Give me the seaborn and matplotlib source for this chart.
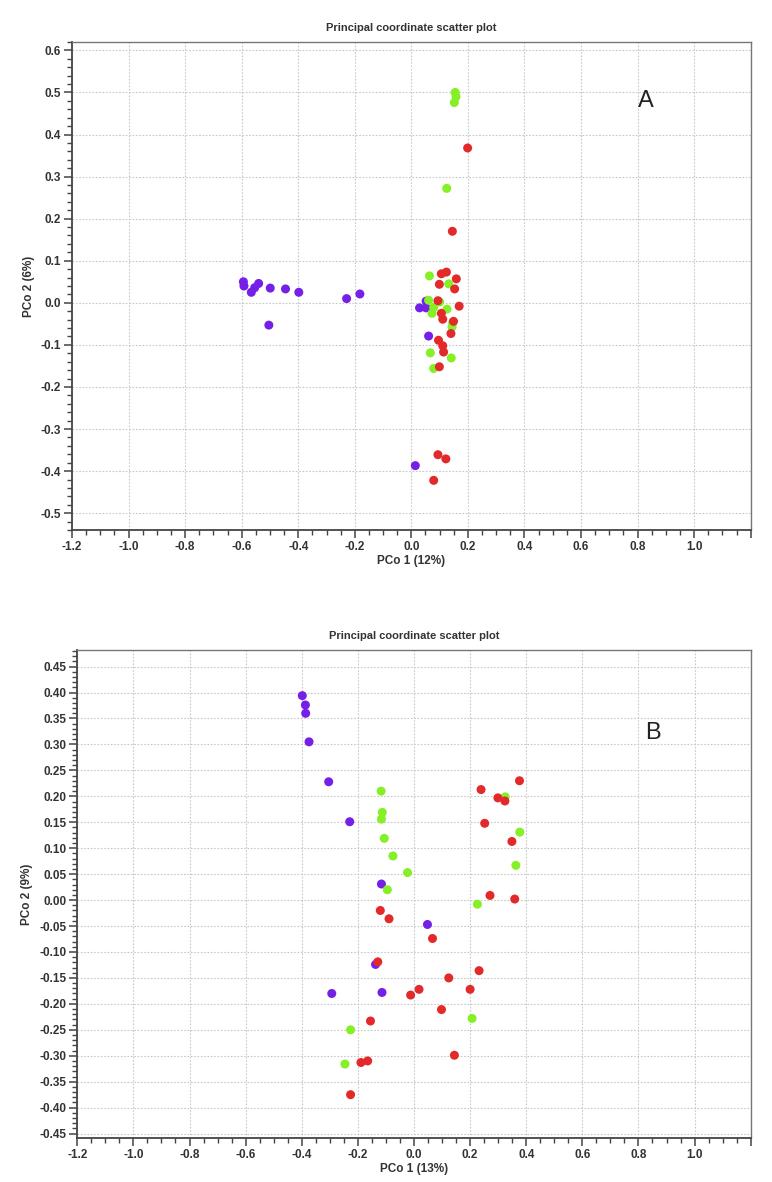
import matplotlib
matplotlib.use('Agg')
import matplotlib.pyplot as plt
import pandas as pd
import seaborn as sns
import numpy as np
from matplotlib.ticker import MultipleLocator, FuncFormatter

# Panel A points (PCo 1, PCo 2) per group
a_purple_x = [-0.594, -0.592, -0.566, -0.554, -0.540, -0.499, -0.504, -0.445, -0.398, -0.229, -0.182,
              0.029, 0.052, 0.052, 0.061, 0.014]
a_purple_y = [0.050, 0.040, 0.025, 0.036, 0.046, 0.035, -0.053, 0.033, 0.025, 0.010, 0.021,
              -0.012, -0.012, 0.004, -0.079, -0.387]
a_green_x = [0.155, 0.158, 0.152, 0.125, 0.064, 0.132, 0.061, 0.079, 0.073, 0.126, 0.144, 0.146,
             0.067, 0.141, 0.079, 0.100]
a_green_y = [0.500, 0.490, 0.476, 0.272, 0.064, 0.045, 0.006, -0.011, -0.025, -0.015, -0.057, -0.047,
             -0.119, -0.131, -0.156, 0.002]
a_red_x = [0.199, 0.145, 0.106, 0.124, 0.159, 0.099, 0.153, 0.094, 0.169, 0.106, 0.111, 0.149,
           0.140, 0.096, 0.111, 0.114, 0.099, 0.094, 0.122, 0.079]
a_red_y = [0.368, 0.170, 0.069, 0.073, 0.057, 0.044, 0.033, 0.005, -0.008, -0.025, -0.039, -0.044,
           -0.073, -0.089, -0.102, -0.117, -0.152, -0.361, -0.371, -0.422]

# Panel B points
b_purple_x = [-0.398, -0.387, -0.386, -0.374, -0.304, -0.229, -0.116, 0.048, -0.137, -0.293, -0.114]
b_purple_y = [0.394, 0.376, 0.360, 0.305, 0.228, 0.151, 0.031, -0.047, -0.124, -0.180, -0.178]
b_green_x = [-0.117, -0.113, -0.116, -0.106, -0.075, -0.023, -0.095, 0.325, 0.377, 0.363, 0.226,
             0.207, -0.226, -0.246]
b_green_y = [0.210, 0.169, 0.156, 0.119, 0.085, 0.053, 0.020, 0.199, 0.131, 0.067, -0.008,
             -0.228, -0.250, -0.316]
b_red_x = [0.239, 0.376, 0.299, 0.324, 0.252, 0.349, 0.271, 0.359, -0.120, -0.089, 0.066, -0.129,
           0.232, 0.124, 0.200, 0.018, -0.012, 0.098, -0.155, 0.144, -0.165, -0.189, -0.226]
b_red_y = [0.213, 0.230, 0.197, 0.191, 0.148, 0.113, 0.009, 0.002, -0.020, -0.036, -0.074, -0.119,
           -0.136, -0.150, -0.172, -0.172, -0.183, -0.211, -0.233, -0.299, -0.310, -0.313, -0.375]

groups = ['purple', 'green', 'red']
colors = {'purple': '#7420e6', 'green': '#84f025', 'red': '#e32a2a'}


def make_df(px, py, gx, gy, rx, ry):
    parts = []
    for g, xs, ys in zip(groups, [px, gx, rx], [py, gy, ry]):
        parts.append(pd.DataFrame({'x': xs, 'y': ys, 'group': g}))
    return pd.concat(parts, ignore_index=True)


df_a = make_df(a_purple_x, a_purple_y, a_green_x, a_green_y, a_red_x, a_red_y)
df_b = make_df(b_purple_x, b_purple_y, b_green_x, b_green_y, b_red_x, b_red_y)

sns.set_style('white')
plt.rcParams['font.family'] = ['Liberation Sans', 'DejaVu Sans']
plt.rcParams['axes.unicode_minus'] = False

fig = plt.figure(figsize=(7.72, 11.82), dpi=100)
ax_a = fig.add_axes([0.0933, 0.5516, 0.8791, 0.4129])
ax_b = fig.add_axes([0.1001, 0.0370, 0.8723, 0.4131])


def style_axis(ax, ylim, ymajor, yminor, yfmt, xlabel, ylabel, letter, letter_pos):
    ax.set_xlim(-1.2, 1.2)
    ax.set_ylim(*ylim)
    ax.xaxis.set_major_locator(MultipleLocator(0.2))
    ax.xaxis.set_minor_locator(MultipleLocator(0.05))
    ax.yaxis.set_major_locator(MultipleLocator(ymajor))
    ax.yaxis.set_minor_locator(MultipleLocator(yminor))
    ax.xaxis.set_major_formatter(FuncFormatter(lambda v, p: '' if v > 1.1 else f'{v:.1f}'))
    ax.yaxis.set_major_formatter(FuncFormatter(lambda v, p: yfmt.format(0.0 if abs(v) < 1e-9 else v)))
    ax.grid(True, which='major', color='#c8c8c8', linestyle=(0, (1.5, 1.5)), linewidth=0.8)
    ax.set_axisbelow(True)
    ax.tick_params(which='major', direction='out', length=6, width=1.1, color='#444444',
                   labelsize=8.5, labelcolor='#333333', pad=2)
    ax.tick_params(which='minor', direction='out', length=3.5, width=1.0, color='#444444')
    ax.tick_params(left=True, bottom=True, which='both')
    for lbl in ax.get_xticklabels() + ax.get_yticklabels():
        lbl.set_fontweight('bold')
    for s in ['left', 'bottom']:
        ax.spines[s].set_color('#444444')
        ax.spines[s].set_linewidth(1.3)
    for s in ['top', 'right']:
        ax.spines[s].set_color('#777777')
        ax.spines[s].set_linewidth(1.0)
    ax.set_xlabel(xlabel, fontsize=8.5, fontweight='bold', color='#333333', labelpad=1)
    ax.set_ylabel(ylabel, fontsize=8.5, fontweight='bold', color='#333333', labelpad=4)
    ax.set_title('Principal coordinate scatter plot', fontsize=8, fontweight='bold',
                 color='#333333', pad=8)
    ax.text(letter_pos[0], letter_pos[1], letter, fontsize=17, color='#222222',
            ha='center', va='center')


for ax, df in [(ax_a, df_a), (ax_b, df_b)]:
    sns.scatterplot(data=df, x='x', y='y', hue='group', palette=colors, hue_order=groups,
                    s=42, linewidth=0, legend=False, ax=ax)

style_axis(ax_a, (-0.54, 0.62), 0.1, 0.02, '{:.1f}', 'PCo 1 (12%)', 'PCo 2 (6%)', 'A', (0.83, 0.48))
style_axis(ax_b, (-0.459, 0.482), 0.05, 0.01, '{:.2f}', 'PCo 1 (13%)', 'PCo 2 (9%)', 'B', (0.852, 0.322))

fig.savefig('out.png', dpi=100)
